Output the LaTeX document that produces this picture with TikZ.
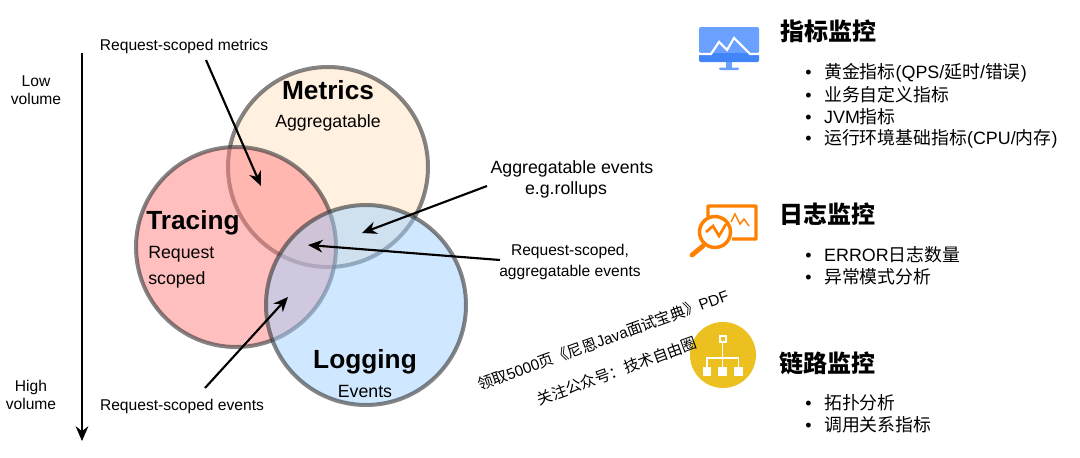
\documentclass[tikz,border=0pt]{standalone}
\usepackage{fontspec}
\setmainfont{Liberation Sans}
\newfontfamily\zhfont{Noto Sans CJK SC}
\newcommand{\zh}[1]{{\zhfont #1}}
\newcommand{\bul}{\makebox[14.2pt][l]{•}}
\definecolor{strokegray}{HTML}{333333}
\definecolor{tracingfill}{HTML}{FF8080}
\definecolor{metricsfill}{HTML}{FFF0E0}
\definecolor{loggingfill}{HTML}{A1D1FF}
\definecolor{orangeicon}{HTML}{FF7F00}
\definecolor{goldicon}{HTML}{ECC11F}
\definecolor{bluetop}{HTML}{6AA0FF}
\definecolor{bluebot}{HTML}{4285F9}
\tikzset{
  venn/.style={circle,minimum size=150pt,inner sep=0pt,draw=strokegray,draw opacity=.6,line width=3pt},
  head/.style={font=\fontsize{19.7}{24}\selectfont\bfseries,text=black,inner sep=0pt},
  sub/.style={font=\fontsize{13.3}{16}\selectfont,inner sep=0pt},
  lbl/.style={font=\fontsize{11.7}{13.5}\selectfont,inner sep=0pt},
  ztitle/.style={font=\fontsize{18}{22}\selectfont\zhfont\bfseries,anchor=west,inner sep=0pt},
  item/.style={font=\fontsize{13.4}{16}\selectfont,anchor=west,inner sep=0pt},
  arr/.style={-{Stealth[length=11pt,width=9.5pt]},line width=1.6pt,black},
  wm/.style={font=\fontsize{11.5}{14}\selectfont,rotate=20,inner sep=0pt},
}
\usetikzlibrary{arrows.meta}
\begin{document}
\begin{tikzpicture}[x=0.75pt,y=-0.75pt]
\useasboundingbox (0,0) rectangle (1080,457);
% axis
\coordinate (axT) at (82,53);
\coordinate (axB) at (82,441);
\draw[arr] (axT) -- (axB);
\node[lbl,align=center] (low) at (36,90) {Low\\volume};
\node[lbl,align=center] (high) at (31,395) {High\\volume};
% circles
\node[venn,fill=metricsfill] (metrics) at (328,167) {};
\node[venn,fill=tracingfill,fill opacity=.5] (tracing) at (236,247) {};
\node[venn,fill=loggingfill,fill opacity=.5] (logging) at (366,305) {};
% texts in circles
\node[head] (tM) at (328,90) {Metrics};
\node[sub] (sM) at (328,123) {Aggregatable};
\node[head] (tT) at (193,223) {Tracing};
\node[sub,anchor=west] (sT1) at (148,254) {Request};
\node[sub,anchor=west] (sT2) at (148,280) {scoped};
\node[head] (tL) at (365,362) {Logging};
\node[sub] (sL) at (365,391) {Events};
% labels
\node[lbl] (lA) at (184,46.500) {Request-scoped metrics};
\node[lbl] (lB) at (182,406) {Request-scoped events};
\node[sub] (lC1) at (572,169) {Aggregatable events};
\node[sub] (lC2) at (566,190) {e.g.rollups};
\node[lbl] (lD1) at (570,251.500) {Request-scoped,};
\node[lbl] (lD2) at (570,272.500) {aggregatable events};
% arrows
\coordinate (aS) at (206,60);   \coordinate (aT) at (261,186);
\coordinate (bS) at (205,388);  \coordinate (bT) at (288,297);
\coordinate (cS) at (487,186);  \coordinate (cT) at (362,233);
\coordinate (dS) at (500,260);  \coordinate (dT) at (308,245);
\draw[arr] (aS) -- (aT);
\draw[arr] (bS) -- (bT);
\draw[arr] (cS) -- (cT);
\draw[arr] (dS) -- (dT);
% monitor icon
\fill[bluetop,rounded corners=1pt] (699,27) rectangle (759,53);
\fill[bluebot,rounded corners=1pt] (699,53) rectangle (759,62);
\fill[bluetop] (726,62) rectangle (732,68);
\fill[bluetop,rounded corners=.8pt] (719,67.500) rectangle (739,70);
\draw[white,line width=1.6pt] (699,54) -- (711,54) -- (719,42) -- (727,50) -- (734,38) -- (750,54) -- (759,54);
% log icon
\draw[orangeicon,line width=2.6pt,rounded corners=.5pt] (708,222) -- (708,206) -- (756,206) -- (756,239) -- (732,239);
\draw[orangeicon,line width=1.1pt] (731,222) -- (735,214) -- (740,224) -- (744,219) -- (749,226);
\draw[orangeicon,line width=2.6pt,fill=white] (715,232) circle[radius=15.5];
\draw[orangeicon,line width=2pt] (706,232) -- (713,226) -- (719,236) -- (726,224);
\draw[orangeicon,line width=3.6pt,line cap=round] (703,246) -- (692,255);
% trace icon
\fill[goldicon] (723,355) circle[radius=33];
\draw[white,line width=1.5pt] (719.500,335.500) rectangle (725.500,341.500);
\draw[white,line width=1.2pt] (722.500,342) -- (722.500,372) (707,372) -- (707,358) -- (738.500,358) -- (738.500,372);
\fill[white] (702.500,367) rectangle (711,375.500);
\fill[white] (718,367) rectangle (726.500,375.500);
\fill[white] (734,367) rectangle (742.500,375.500);
% right lists
\node[ztitle] (t1) at (780,31) {指标监控};
\node[item] (i11) at (805,73) {\bul\zh{黄金指标}(QPS/\zh{延时}/\zh{错误})};
\node[item] (i12) at (805,95) {\bul\zh{业务自定义指标}};
\node[item] (i13) at (805,117) {\bul JVM\zh{指标}};
\node[item] (i14) at (805,139) {\bul\zh{运行环境基础指标}(CPU/\zh{内存})};
\node[ztitle] (t2) at (779,214) {日志监控};
\node[item] (i21) at (805,255) {\bul ERROR\zh{日志数量}};
\node[item] (i22) at (805,277) {\bul\zh{异常模式分析}};
\node[ztitle] (t3) at (779,363) {链路监控};
\node[item] (i31) at (805,403) {\bul\zh{拓扑分析}};
\node[item] (i32) at (805,425) {\bul\zh{调用关系指标}};
% rotated caption
\node[wm] (w1) at (603,340) {\zh{领取}5000\zh{页《尼恩}Java\zh{面试宝典》}PDF};
\node[wm] (w2) at (617,371) {\zh{关注公众号：技术自由圈}};
\end{tikzpicture}
\end{document}
